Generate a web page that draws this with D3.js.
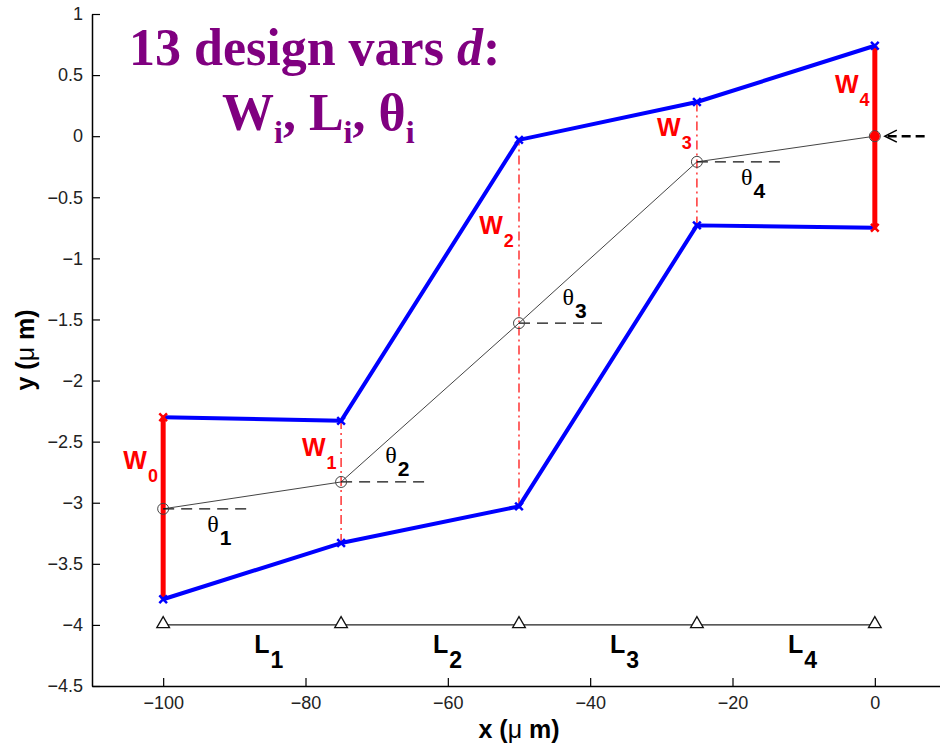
<!DOCTYPE html>
<html>
<head>
<meta charset="utf-8">
<script src="https://cdn.jsdelivr.net/npm/d3@7"></script>
<style>
  body { margin: 0; background: #fff; }
  svg { display: block; }
</style>
</head>
<body>
<div id="chart"></div>
<script>
// section stations (x, um)
const stations = [-100, -75, -50, -25, 0];
// center line through the segment joints
const yCenter = [-3.05, -2.83, -1.53, -0.21, 0];
// upper and lower edges of the beam
const yUpper = [-2.30, -2.33, -0.03, 0.28, 0.74];
const yLower = [-3.79, -3.33, -3.03, -0.73, -0.75];
// ground line with anchors
const groundY = -4;
// tick labels
const xTicks = [-100, -80, -60, -40, -20, 0];
const yTicks = [1, 0.5, 0, -0.5, -1, -1.5, -2, -2.5, -3, -3.5, -4, -4.5];

const width = 940, height = 747;
const margin = {left: 92, top: 14, bottom: 61};

const svg = d3.select("#chart").append("svg")
    .attr("width", width)
    .attr("height", height)
    .style("background", "#fff");

const x = d3.scaleLinear().domain([-110, 10]).range([margin.left, 946]);
const y = d3.scaleLinear().domain([-4.5, 1]).range([height - margin.bottom, margin.top]);

const sans = "'Liberation Sans', Arial, Helvetica, sans-serif";
const serif = "'Liberation Serif', 'Times New Roman', serif";

/**
 * Axes
 */
const fmt = d3.format("");
const xAxis = svg.append("g")
    .attr("transform", `translate(0,${y(-4.5)})`)
    .call(d3.axisBottom(x).tickValues(xTicks).tickFormat(fmt).tickSize(-8).tickSizeOuter(0).tickPadding(10));
const yAxis = svg.append("g")
    .attr("transform", `translate(${x(-110)},0)`)
    .call(d3.axisLeft(y).tickValues(yTicks).tickFormat(fmt).tickSize(-8).tickSizeOuter(0).tickPadding(9));

[xAxis, yAxis].forEach(a => {
    a.selectAll("text").attr("font-family", sans).attr("font-size", 18).attr("fill", "#222");
    a.selectAll("line").attr("stroke", "#000").attr("stroke-width", 1.2);
    a.select(".domain").attr("stroke", "#000").attr("stroke-width", 1.5);
});

svg.append("text")
    .attr("x", 519).attr("y", 738)
    .attr("text-anchor", "middle")
    .attr("font-family", sans).attr("font-size", 25).attr("font-weight", "bold")
    .call(t => {
        t.append("tspan").text("x (");
        t.append("tspan").attr("font-weight", "normal").text("\u03bc");
        t.append("tspan").text(" m)");
    });

svg.append("text")
    .attr("transform", `translate(34,350) rotate(-90)`)
    .attr("text-anchor", "middle")
    .attr("font-family", sans).attr("font-size", 25).attr("font-weight", "bold")
    .call(t => {
        t.append("tspan").text("y (");
        t.append("tspan").attr("font-weight", "normal").text("\u03bc");
        t.append("tspan").text(" m)");
    });

const plot = svg.append("g");
const line = d3.line().x(d => x(d[0])).y(d => y(d[1]));

/**
 * Ground line with triangle anchors
 */
plot.append("path")
    .attr("d", line([[stations[0], groundY], [stations[stations.length - 1], groundY]]))
    .attr("stroke", "#222").attr("stroke-width", 1.3).attr("fill", "none");
plot.selectAll(".anchor")
    .data(stations)
    .enter().append("path")
    .attr("class", "anchor")
    .attr("d", d3.symbol(d3.symbolTriangle, 70))
    .attr("transform", d => `translate(${x(d)},${y(groundY) - 1})`)
    .attr("fill", "#fff").attr("stroke", "#111").attr("stroke-width", 1.3);

/**
 * Width markers (red dash-dot for interior, thick red at ends)
 */
stations.forEach((s, i) => {
    const ends = i === 0 || i === stations.length - 1;
    plot.append("path")
        .attr("d", line([[s, yLower[i]], [s, yUpper[i]]]))
        .attr("stroke", "#ff0000")
        .attr("stroke-width", ends ? 5 : 1.2)
        .attr("stroke-dasharray", ends ? null : "9,4,2,4")
        .attr("fill", "none");
});

/**
 * Center line, angle reference dashes, joint circles
 */
plot.append("path")
    .attr("d", line(stations.map((s, i) => [s, yCenter[i]])))
    .attr("stroke", "#444").attr("stroke-width", 1).attr("fill", "none");

stations.slice(0, 4).forEach((s, i) => {
    plot.append("path")
        .attr("d", line([[s, yCenter[i]], [s + 12, yCenter[i]]]))
        .attr("stroke", "#111").attr("stroke-width", 1.3)
        .attr("stroke-dasharray", "11,7").attr("fill", "none");
});

plot.selectAll(".joint")
    .data(stations)
    .enter().append("circle")
    .attr("class", "joint")
    .attr("cx", d => x(d))
    .attr("cy", (d, i) => y(yCenter[i]))
    .attr("r", 5.5)
    .attr("fill", "none").attr("stroke", "#444").attr("stroke-width", 1);

// end joint sits under the thick red bar
plot.append("circle")
    .attr("cx", x(0)).attr("cy", y(0)).attr("r", 5)
    .attr("fill", "#ff0000");

/**
 * Beam edges
 */
[yUpper, yLower].forEach(ys => {
    const pts = stations.map((s, i) => [s, ys[i]]);
    plot.append("path")
        .attr("d", line(pts))
        .attr("stroke", "#0000ff").attr("stroke-width", 4)
        .attr("stroke-linejoin", "round")
        .attr("fill", "none");
    plot.selectAll(null)
        .data(pts)
        .enter().append("path")
        .attr("d", d3.symbol(d3.symbolX, 40))
        .attr("transform", d => `translate(${x(d[0])},${y(d[1])})`)
        .attr("stroke", (d, i) => (i === 0 && ys === yUpper) || (i === 4 && ys === yLower) ? "#ff0000" : "#0000ff")
        .attr("stroke-width", 2.5);
});

/**
 * Arrow pointing at the tip
 */
plot.append("path")
    .attr("d", line([[1.8, 0], [7.6, 0]]))
    .attr("stroke", "#000").attr("stroke-width", 2.5)
    .attr("stroke-dasharray", "9,5").attr("fill", "none");
plot.append("path")
    .attr("d", `M${x(0) + 22},${y(0) - 6} L${x(0) + 10},${y(0)} L${x(0) + 22},${y(0) + 6}`)
    .attr("stroke", "#000").attr("stroke-width", 1.5).attr("fill", "none");

/**
 * Annotations
 */
const wLabels = [
    {t: "0", x: -105.6, y: -2.72},
    {t: "1", x: -80.5, y: -2.62},
    {t: "2", x: -55.6, y: -0.80},
    {t: "3", x: -30.6, y: 0.0},
    {t: "4", x: -5.6, y: 0.355}
];
const thetaLabels = [
    {t: "1", x: -93.8, y: -3.24},
    {t: "2", x: -68.8, y: -2.675},
    {t: "3", x: -43.9, y: -1.38},
    {t: "4", x: -18.8, y: -0.40}
];
const lLabels = [
    {t: "1", x: -87.2},
    {t: "2", x: -62.1},
    {t: "3", x: -37.2},
    {t: "4", x: -12.2}
];

wLabels.forEach(d => {
    const t = plot.append("text")
        .attr("x", x(d.x)).attr("y", y(d.y))
        .attr("font-family", sans).attr("font-weight", "bold")
        .attr("font-size", 25).attr("fill", "#ff0000");
    t.append("tspan").text("W");
    t.append("tspan").attr("dy", 13).attr("dx", 1).attr("font-size", 18).text(d.t);
});

thetaLabels.forEach(d => {
    const t = plot.append("text")
        .attr("x", x(d.x)).attr("y", y(d.y))
        .attr("font-size", 24).attr("fill", "#000");
    t.append("tspan").attr("font-family", serif).text("\u03b8");
    t.append("tspan").attr("font-family", sans).attr("font-weight", "bold")
        .attr("dy", 13).attr("dx", 1).attr("font-size", 21).text(d.t);
});

lLabels.forEach(d => {
    const t = plot.append("text")
        .attr("x", x(d.x)).attr("y", y(-4.23))
        .attr("font-family", sans).attr("font-weight", "bold")
        .attr("font-size", 25).attr("fill", "#000");
    t.append("tspan").text("L");
    t.append("tspan").attr("dy", 15).attr("dx", 1).attr("font-size", 23).text(d.t);
});

/**
 * Title
 */
const title = svg.append("g")
    .attr("font-family", serif).attr("font-weight", "bold")
    .attr("fill", "#800080");
const t1 = title.append("text").attr("x", 129).attr("y", 65).attr("font-size", 52);
t1.append("tspan").text("13 design vars ");
t1.append("tspan").attr("font-style", "italic").text("d");
t1.append("tspan").text(":");

const t2 = title.append("text").attr("x", 222).attr("y", 130).attr("font-size", 52);
t2.append("tspan").text("W");
t2.append("tspan").attr("dy", 13).attr("font-size", 32).text("i");
t2.append("tspan").attr("dy", -13).text(", L");
t2.append("tspan").attr("dy", 13).attr("font-size", 32).text("i");
t2.append("tspan").attr("dy", -13).text(", \u03b8");
t2.append("tspan").attr("dy", 13).attr("font-size", 32).text("i");
</script>
</body>
</html>
